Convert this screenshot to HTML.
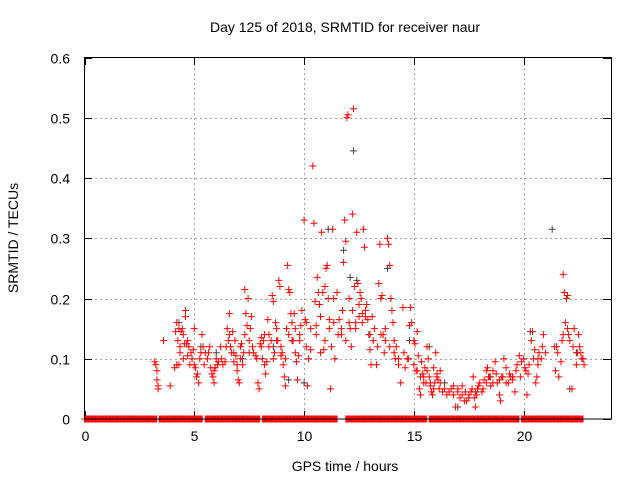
<!DOCTYPE html>
<html><head><meta charset="utf-8"><style>
body{margin:0;background:#fff}
svg{display:block;font-family:"Liberation Sans",sans-serif}
</style></head><body>
<svg id="chart" width="640" height="480" xmlns="http://www.w3.org/2000/svg">
<text x="345" y="32" text-anchor="middle" font-size="14" fill="#000">Day 125 of 2018, SRMTID for receiver naur</text>
<text x="345" y="471" text-anchor="middle" font-size="14" fill="#000">GPS time / hours</text>
<text transform="translate(18,238) rotate(-90)" text-anchor="middle" font-size="14" fill="#000">SRMTID / TECUs</text>
<g id="grid"></g>
<g id="ticks"></g>
<g id="zeros"></g>
<g id="black"></g>
<g id="red"></g>
<rect x="84.5" y="57.5" width="527" height="361.5" fill="none" stroke="#000" stroke-width="1"/>
</svg>
<script>
const xTicks=[0,5,10,15,20];
const yTicks=[0,0.1,0.2,0.3,0.4,0.5,0.6];
const yTickLabels=["0","0.1","0.2","0.3","0.4","0.5","0.6"];
const redHours=[3.2,3.25,3.3,3.3,3.35,3.35,3.6,3.9,4.1,4.15,4.2,4.25,4.3,4.3,4.35,4.4,4.45,4.5,4.55,4.6,4.6,4.65,4.7,4.75,4.8,4.9,4.95,5.0,5.05,5.1,5.15,5.2,5.3,5.35,5.4,5.5,5.6,5.7,5.75,5.8,5.85,5.9,5.95,6.0,6.1,6.2,6.3,6.4,6.5,6.55,6.6,6.65,6.7,6.75,6.8,6.85,6.9,6.95,7.0,7.05,7.1,7.15,7.2,7.25,7.3,7.35,7.4,7.45,7.5,7.55,7.6,7.7,7.8,7.9,7.95,8.0,8.05,8.1,8.15,8.2,8.25,8.3,8.35,8.4,8.5,8.55,8.6,8.65,8.7,8.75,8.8,8.85,8.9,8.95,9.0,9.05,9.1,9.15,9.2,9.25,9.3,9.35,9.4,9.45,9.5,9.55,9.6,9.65,9.7,9.75,9.8,9.85,9.9,10.0,10.05,10.1,10.15,10.2,10.3,10.4,10.45,10.5,10.55,10.6,10.65,10.7,10.75,10.8,10.85,10.9,10.95,11.0,11.05,11.1,11.15,11.2,11.25,11.3,11.35,11.4,11.5,11.6,11.7,11.75,11.8,11.85,11.9,11.95,12.0,12.05,12.1,12.15,12.2,12.25,12.3,12.35,12.4,12.45,12.5,12.55,12.6,12.65,12.7,12.75,12.8,12.85,12.9,13.0,13.05,13.1,13.2,13.3,13.4,13.45,13.5,13.55,13.6,13.65,13.7,13.8,13.85,13.9,13.95,14.0,14.05,14.1,14.15,14.2,14.3,14.4,14.5,14.6,14.7,14.8,14.85,14.9,15.0,15.05,15.1,15.15,15.2,15.25,15.3,15.35,15.4,15.45,15.5,15.55,15.6,15.65,15.7,15.75,15.8,15.85,15.9,15.95,16.0,16.05,16.1,16.15,16.2,16.3,16.5,16.7,16.8,16.9,17.0,17.1,17.2,17.3,17.4,17.5,17.6,17.7,17.75,17.8,17.85,17.9,18.0,18.1,18.2,18.3,18.35,18.4,18.5,18.6,18.7,18.8,18.9,18.95,19.0,19.1,19.2,19.3,19.4,19.5,19.6,19.7,19.8,19.9,20.0,20.1,20.15,20.2,20.35,20.4,20.5,20.55,20.6,20.65,20.7,20.8,20.9,21.0,21.4,21.45,21.5,21.6,21.7,21.75,21.8,21.85,21.9,21.95,22.0,22.05,22.1,22.2,22.3,22.4,22.5,22.55,22.6,22.7,22.75];
const redValues=[.095,.09,.08,.065,.055,.05,.13,.055,.085,.145,.16,.13,.09,.15,.11,.145,.15,.14,.125,.18,.17,.125,.105,.12,.09,.10,.115,.15,.085,.07,.075,.06,.11,.14,.12,.11,.10,.12,.085,.075,.07,.06,.085,.10,.095,.12,.09,.095,.15,.13,.175,.12,.11,.145,.095,.13,.105,.08,.065,.06,.1,.125,.09,.11,.215,.175,.155,.2,.13,.15,.17,.11,.105,.06,.05,.125,.135,.1,.13,.09,.075,.095,.165,.14,.13,.205,.195,.11,.16,.15,.13,.23,.22,.105,.11,.09,.07,.055,.15,.255,.215,.21,.175,.16,.13,.175,.15,.095,.065,.105,.13,.155,.18,.33,.165,.16,.055,.1,.115,.42,.325,.195,.155,.235,.21,.19,.11,.31,.21,.115,.22,.25,.255,.2,.165,.05,.12,.315,.2,.1,.21,.165,.14,.18,.26,.33,.295,.5,.505,.2,.15,.12,.34,.515,.22,.16,.31,.225,.17,.21,.2,.175,.315,.285,.18,.19,.165,.115,.09,.17,.15,.09,.225,.29,.2,.205,.14,.11,.15,.3,.29,.255,.2,.18,.16,.13,.1,.12,.09,.06,.185,.085,.1,.155,.185,.16,.13,.125,.08,.145,.105,.05,.04,.095,.075,.07,.085,.06,.12,.1,.07,.055,.045,.04,.085,.06,.11,.075,.065,.05,.08,.045,.04,.05,.055,.02,.045,.035,.055,.03,.03,.04,.045,.07,.035,.02,.04,.05,.06,.045,.065,.08,.085,.07,.055,.08,.095,.06,.04,.03,.07,.1,.085,.06,.07,.065,.045,.09,.105,.095,.1,.08,.04,.075,.13,.145,.115,.06,.07,.09,.11,.1,.14,.11,.12,.08,.12,.07,.095,.13,.24,.21,.16,.2,.205,.14,.13,.05,.15,.09,.14,.12,.11,.1,.09];
const redHours2=[4.2,4.35,4.5,4.7,4.85,5.0,5.25,5.45,5.65,5.9,6.05,6.25,6.45,6.6,6.8,6.95,7.1,7.3,7.5,7.65,7.85,8.05,8.2,8.4,8.6,8.75,8.95,9.15,9.3,9.45,9.6,9.8,10.1,10.3,10.55,10.75,10.95,11.15,11.35,11.55,11.7,11.9,12.05,12.2,12.35,12.5,12.65,12.8,12.95,13.15,13.35,13.5,13.7,13.9,14.1,14.3,14.55,14.75,15.0,15.15,15.3,15.45,15.6,15.75,15.9,16.05,16.2,16.4,16.6,16.8,17.0,17.2,17.35,17.5,17.65,17.8,17.95,18.15,18.3,18.45,18.6,18.75,18.9,19.05,19.2,19.35,19.5,19.65,19.85,20.05,20.25,20.45,20.65,20.85,21.55,21.8,22.0,22.25,22.45,22.65];
const redValues2=[.09,.12,.1,.13,.11,.09,.1,.09,.11,.08,.09,.1,.12,.14,.11,.09,.12,.14,.11,.12,.1,.12,.14,.12,.1,.13,.12,.1,.14,.13,.11,.14,.12,.15,.14,.17,.13,.15,.16,.14,.15,.13,.16,.18,.15,.19,.16,.17,.14,.13,.12,.14,.13,.12,.11,.1,.11,.1,.09,.08,.07,.06,.08,.06,.05,.07,.06,.05,.045,.04,.05,.04,.045,.035,.05,.045,.055,.05,.06,.07,.06,.075,.065,.07,.06,.075,.07,.08,.07,.085,.09,.1,.1,.12,.11,.14,.15,.12,.11,.1];
const blackHours=[4.3,5.3,6.0,7.2,8.6,9.3,10.0,11.1,11.8,12.1,12.25,12.4,13.0,13.8,14.8,15.7,16.4,17.0,18.5,19.5,20.3,21.3,22.1,22.4];
const blackValues=[.16,.12,.11,.1,.12,.065,.06,.315,.28,.235,.445,.23,.14,.25,.13,.12,.06,.02,.07,.07,.145,.315,.05,.11];
const zeroIntervals=[[0,3.3],[3.4,5.4],[5.5,8.0],[8.1,11.5],[11.9,15.6],[15.7,19.8],[19.9,22.7]];
const X=h=>84.5+h*(527/24), Y=v=>419-v*(361.5/0.6);
const NS="http://www.w3.org/2000/svg";
function plus(g,x,y,color){const p=document.createElementNS(NS,'path');
p.setAttribute('d',`M${x-3.5},${y}H${x+3.5}M${x},${y-3.5}V${y+3.5}`);
p.setAttribute('stroke',color);p.setAttribute('stroke-width','1');p.setAttribute('fill','none');


g.appendChild(p);}
const grid=document.getElementById('grid'),ticks=document.getElementById('ticks');
function line(g,x1,y1,x2,y2,st,dash){const l=document.createElementNS(NS,'line');
l.setAttribute('x1',x1);l.setAttribute('y1',y1);l.setAttribute('x2',x2);l.setAttribute('y2',y2);
l.setAttribute('stroke',st);if(dash)l.setAttribute('stroke-dasharray',dash);g.appendChild(l);return l;}
function txt(g,x,y,s,anchor){const t=document.createElementNS(NS,'text');t.setAttribute('x',x);t.setAttribute('y',y);
t.setAttribute('text-anchor',anchor);t.setAttribute('font-size','14');t.textContent=s;


g.appendChild(t);}
xTicks.forEach(h=>{const x=Math.round(X(h))+0.5;
if(h>0)line(grid,x,58,x,419,'#a0a0a0','2,3');
line(ticks,x,419,x,411,'#000');line(ticks,x,57,x,65,'#000');
txt(ticks,x,441,String(h),'middle');});
yTicks.forEach((v,i)=>{const y=Math.round(Y(v))+0.5;
if(v>0&&v<0.6)line(grid,85,y,611,y,'#a0a0a0','2,3');
line(ticks,84,y,92,y,'#000');line(ticks,611,y,603,y,'#000');
txt(ticks,70,y+5,yTickLabels[i],'end');});
const zg=document.getElementById('zeros');
zeroIntervals.forEach(([a,b])=>{for(let h=a;h<=b;h+=0.04)plus(zg,X(h),Y(0),'#ff0000');});
const bg=document.getElementById('black');
blackHours.forEach((h,i)=>plus(bg,X(h),Y(blackValues[i]),'#404040'));
const rg=document.getElementById('red');
redHours.forEach((h,i)=>plus(rg,X(h),Y(redValues[i]),'#ff0000'));
redHours2.forEach((h,i)=>plus(rg,X(h),Y(redValues2[i]),'#ff0000'));
</script>
</body></html>
